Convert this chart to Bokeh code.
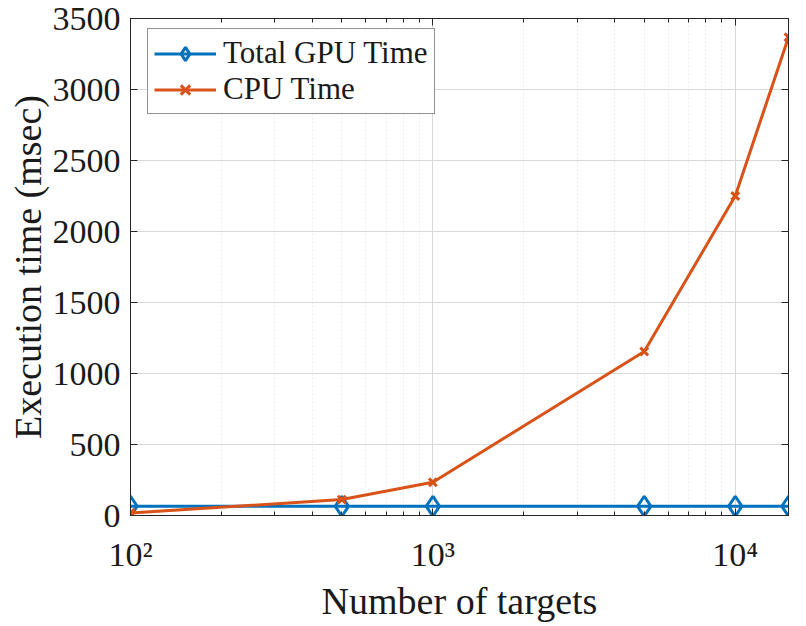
from bokeh.plotting import figure
from bokeh.models import (FixedTicker, LogAxis, LinearAxis, Legend, LegendItem,
                          CustomJSTickFormatter, Range1d)
from bokeh.embed import file_html
from bokeh.resources import INLINE

# ---- data ----
targets = [100, 500, 1000, 5000, 10000, 15000]
gpu_time = [65, 65, 65, 65, 65, 65]
cpu_time = [18, 112, 234, 1155, 2250, 3368]

x_major = [100, 1000, 10000]
x_minor = [m * d for d in (100, 1000, 10000) for m in range(2, 10)]
y_major = [0, 500, 1000, 1500, 2000, 2500, 3000, 3500]

BLUE = "#0072BD"
ORANGE = "#D95319"
FONT = "Liberation Serif"
AX = "#262626"

p = figure(width=806, height=626, x_axis_type="log",
           x_range=Range1d(100, 15000), y_range=Range1d(0, 3500),
           output_backend="svg", toolbar_location=None,
           min_border_left=130, min_border_right=18,
           min_border_top=18, min_border_bottom=111)
p.background_fill_color = "white"
p.border_fill_color = "white"
p.outline_line_color = AX
p.outline_line_width = 1

sup = CustomJSTickFormatter(code="""
const e = Math.round(Math.log10(tick));
const s = {'0':'\u2070','1':'\u00b9','2':'\u00b2','3':'\u00b3','4':'\u2074','5':'\u2075'};
return '10' + String(e).split('').map(c => s[c]).join('');
""")

xa = p.xaxis[0]
xa.ticker = FixedTicker(ticks=x_major, minor_ticks=x_minor)
xa.formatter = sup
xa.axis_label = "Number of targets"
ya = p.yaxis[0]
ya.ticker = FixedTicker(ticks=y_major)
ya.axis_label = "Execution time (msec)"

for ax in (xa, ya):
    ax.axis_label_text_font = FONT
    ax.axis_label_text_font_style = "normal"
    ax.axis_label_text_font_size = "38px"
    ax.axis_label_text_color = "#1a1a1a"
    ax.major_label_text_font = FONT
    ax.major_label_text_font_size = "34px"
    ax.major_label_text_color = "#1a1a1a"
    ax.axis_line_color = AX
    ax.major_tick_in = 7
    ax.major_tick_out = 0
    ax.minor_tick_in = 4
    ax.minor_tick_out = 0
    ax.major_tick_line_color = AX
    ax.minor_tick_line_color = AX
ya.major_label_standoff = 10
ya.axis_label_standoff = 1
xa.major_label_standoff = 20
xa.axis_label_standoff = 4

# mirrored tick axes (box)
empty = CustomJSTickFormatter(code="return '';")
top = LogAxis(ticker=FixedTicker(ticks=x_major, minor_ticks=x_minor), formatter=empty,
              major_tick_in=7, major_tick_out=0, minor_tick_in=4, minor_tick_out=0,
              major_label_text_font_size="1px", major_label_standoff=0,
              axis_line_color=AX, major_tick_line_color=AX, minor_tick_line_color=AX)
right = LinearAxis(ticker=FixedTicker(ticks=y_major), formatter=empty,
                   major_tick_in=7, major_tick_out=0, minor_tick_in=0, minor_tick_out=0,
                   major_label_text_font_size="1px", major_label_standoff=0,
                   axis_line_color=AX, major_tick_line_color=AX)
p.add_layout(top, "above")
p.add_layout(right, "right")

# grids
p.xgrid.ticker = FixedTicker(ticks=x_major, minor_ticks=x_minor)
p.ygrid.ticker = FixedTicker(ticks=y_major)
for g in (p.xgrid[0], p.ygrid[0]):
    g.grid_line_color = "#d9d9d9"
    g.grid_line_width = 1
p.xgrid.minor_grid_line_color = "#ececec"
p.xgrid.minor_grid_line_dash = "2 2"
p.xgrid.minor_grid_line_width = 1

# series
gl = p.line(targets, gpu_time, line_color=BLUE, line_width=3)
gm = p.scatter(targets, gpu_time, marker="diamond", size=20, line_color=BLUE,
               line_width=3, fill_alpha=0)
cl = p.line(targets, cpu_time, line_color=ORANGE, line_width=3)
cm = p.scatter(targets, cpu_time, marker="x", size=11, line_color=ORANGE, line_width=3)

legend = Legend(items=[LegendItem(label="Total GPU Time", renderers=[gl, gm]),
                       LegendItem(label="CPU Time", renderers=[cl, cm])],
                location=(17, 401), margin=0, padding=6, spacing=0,
                glyph_width=62, glyph_height=33, label_height=33,
                label_standoff=7,
                label_text_font=FONT, label_text_font_size="31px",
                label_text_color="#1a1a1a",
                border_line_color=AX, border_line_width=1,
                background_fill_color="white", background_fill_alpha=1)
p.add_layout(legend)

open("out.html", "w").write(file_html(p, INLINE))
